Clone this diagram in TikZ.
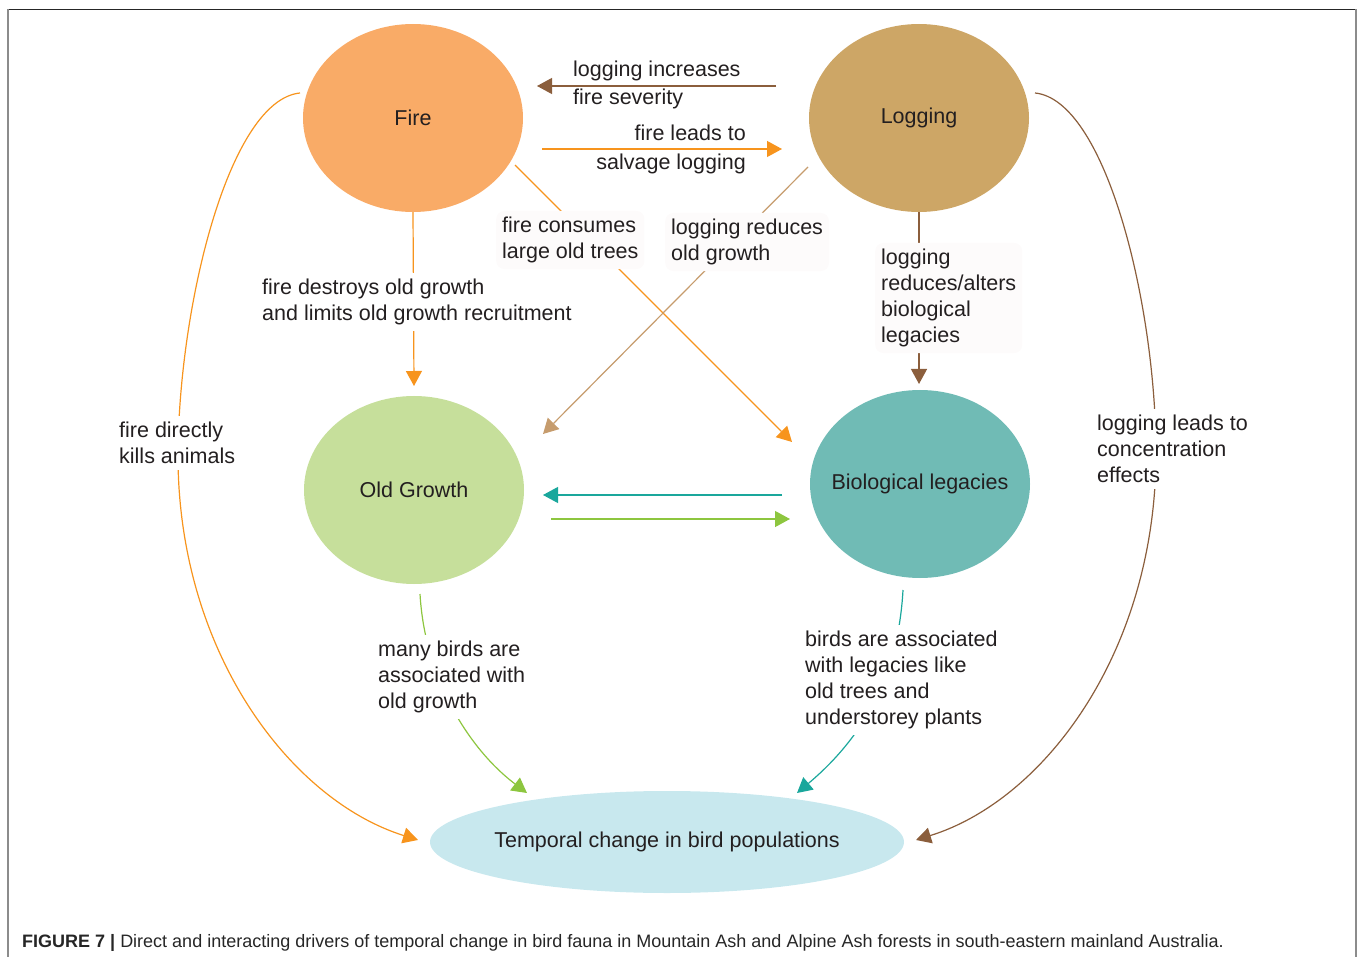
\documentclass[tikz,border=0pt]{standalone}
\usepackage{fontspec}
\setmainfont{Liberation Sans}
\usetikzlibrary{arrows.meta,shapes.geometric,calc}
\definecolor{txt}{HTML}{231F20}
\definecolor{firec}{HTML}{F9AB67}
\definecolor{logc}{HTML}{CDA666}
\definecolor{ogc}{HTML}{C6DF9B}
\definecolor{bioc}{HTML}{70BBB5}
\definecolor{tempc}{HTML}{C8E8EE}
\definecolor{orangec}{HTML}{F7941D}
\definecolor{brownc}{HTML}{8B5E3C}
\definecolor{tanc}{HTML}{C69C6D}
\definecolor{tealc}{HTML}{1AA79C}
\definecolor{greenc}{HTML}{8DC63F}
\definecolor{boxc}{HTML}{FDFBFB}
\begin{document}
\begin{tikzpicture}[x=1pt,y=-1pt,
  font=\fontsize{21.5pt}{26pt}\selectfont, text=txt,
  blob/.style={ellipse, inner sep=0pt, minimum width=220pt, minimum height=188pt},
  lbl/.style={align=left, inner sep=0pt},
  cover/.style={align=left, fill=white, inner sep=6pt},
  softbox/.style={align=left, fill=boxc, rounded corners=8pt, inner sep=6pt},
  conn/.style={line width=1.2pt},
  tip/.style={-{Triangle[length=15pt,width=16pt]}}]
\useasboundingbox (0,0) rectangle (1360,957);
% frame
\draw[line width=1.2pt, black!85] (8,9.5) -- (1356,9.5);
\draw[line width=1.5pt, black!45] (8,9.5) -- (8,957);
\draw[line width=1.5pt, black!45] (1356,9.5) -- (1356,957);
% main nodes
\node[blob, fill=firec, label=center:Fire] (fire) at (413,118) {};
\node[blob, fill=logc, label=center:Logging] (logging) at (919,118) {};
\node[blob, fill=ogc, label=center:Old Growth] (oldgrowth) at (414,490) {};
\node[blob, fill=bioc, label=center:Biological legacies] (bio) at (920,484) {};
\node[ellipse, fill=tempc, inner sep=0pt, minimum width=474pt, minimum height=102pt,
      label=center:Temporal change in bird populations] (temporal) at (667,842) {};
% straight connectors
\draw[conn, brownc, tip] ($(logging)+(-143,-32)$) -- ($(fire)+(124,-32)$);
\draw[conn, orangec, tip] ($(fire)+(129,31)$) -- ($(logging)+(-137,31)$);
\draw[conn, orangec, tip] ($(fire)+(102,47)$) -- ($(bio)+(-128,-42)$);
\draw[conn, tanc, tip] ($(logging)+(-111,49)$) -- ($(oldgrowth)+(129,-56)$);
\draw[conn, orangec, tip] (fire.south) -- ($(oldgrowth)+(0,-104)$);
\draw[conn, brownc, tip] (logging.south) -- ($(bio)+(-1,-100)$);
\draw[conn, tealc, tip] ($(bio)+(-138,11)$) -- ($(oldgrowth)+(129,5)$);
\draw[conn, greenc, tip] ($(oldgrowth)+(137,29)$) -- ($(bio)+(-130,35)$);
% curved connectors
\draw[conn, greenc, tip] ($(oldgrowth)+(6,104)$) .. controls (425,680) and (470,750) .. ($(temporal)+(-140,-49)$);
\draw[conn, tealc, tip] ($(bio)+(-17,106)$) .. controls (898,680) and (860,740) .. ($(temporal)+(130,-49)$);
\draw[conn, orangec, tip] ($(fire)+(-113,-25)$) .. controls (230,100) and (180,300) .. (178,450)
      .. controls (176,650) and (290,800) .. ($(temporal)+(-249,-2)$);
\draw[conn, brownc, tip] ($(logging)+(116,-25)$) .. controls (1105,100) and (1155,300) .. (1156,450)
      .. controls (1157,650) and (1045,800) .. ($(temporal)+(249,-2)$);
% labels
\node[lbl, anchor=west, font=\fontsize{21.5pt}{28pt}\selectfont] (l1) at (573,85) {logging increases\\fire severity};
\node[lbl, anchor=east, align=right, font=\fontsize{21.5pt}{29pt}\selectfont] (l2) at (746,149) {fire leads to\\salvage logging};
\node[softbox, anchor=west] (l3) at (496,240) {fire consumes\\large old trees};
\node[softbox, anchor=west] (l4) at (665,242) {logging reduces\\old growth};
\node[cover, anchor=west] (l5) at (256,302) {fire destroys old growth\\and limits old growth recruitment};
\node[softbox, anchor=west] (l6) at (875,298) {logging\\reduces/alters\\biological\\legacies};
\node[cover, anchor=west] (l7) at (113,443) {fire directly\\kills animals};
\node[cover, anchor=west] (l8) at (1091,449) {logging leads to\\concentration\\effects};
\node[cover, anchor=west] (l9) at (372,677) {many birds are\\associated with\\old growth};
\node[cover, anchor=west] (l10) at (799,680) {birds are associated\\with legacies like\\old trees and\\understorey plants};
% caption
\node[anchor=base west, inner sep=0pt, font=\fontsize{18pt}{21pt}\selectfont, text=black!85] (cap) at (22,947)
  {\textbf{FIGURE 7 |} Direct and interacting drivers of temporal change in bird fauna in Mountain Ash and Alpine Ash forests in south-eastern mainland Australia.};
\end{tikzpicture}
\end{document}
